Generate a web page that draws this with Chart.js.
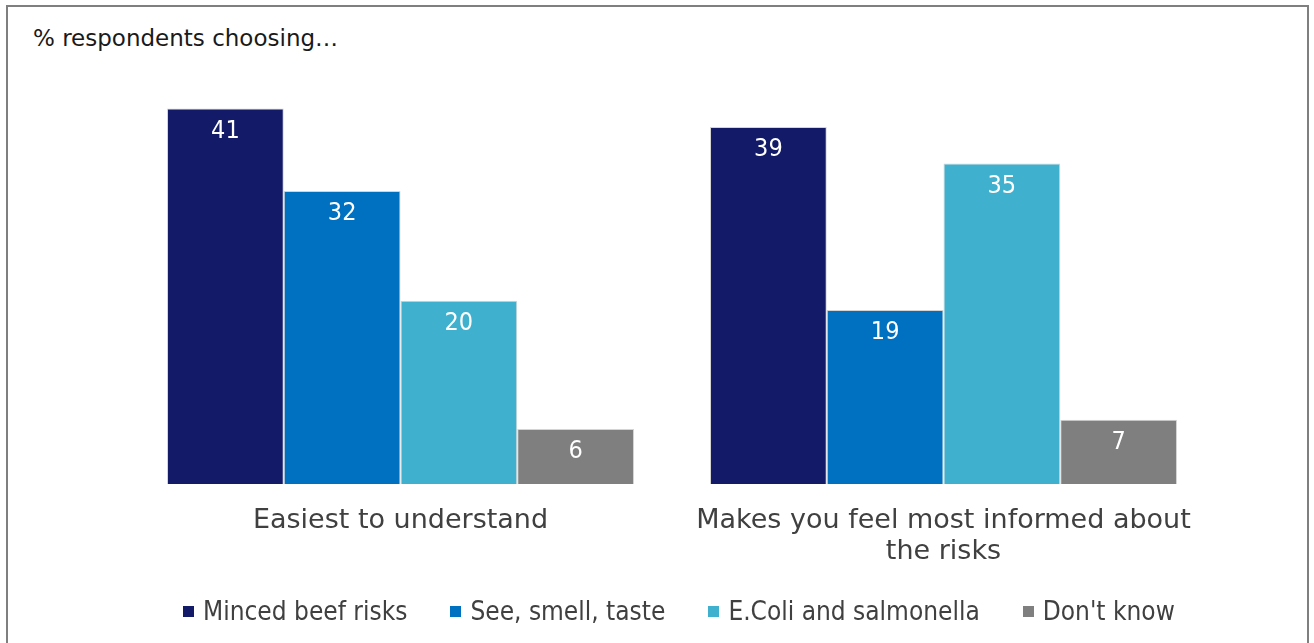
<!DOCTYPE html>
<html>
<head>
<meta charset="utf-8">
<script src="https://cdn.jsdelivr.net/npm/chart.js@4.4.1/dist/chart.umd.min.js"></script>
<style>
  html, body { margin: 0; padding: 0; background: #fff; }
  #wrap { position: relative; width: 1314px; height: 643px; overflow: hidden; }
  #frame {
    position: absolute; left: 6px; top: 5px; width: 1303px; height: 660px;
    border: 2px solid #7f7f7f; box-sizing: border-box;
  }
  #subtitle {
    position: absolute; left: 33px; top: 25px;
    font: 23px "DejaVu Sans", sans-serif; color: #1a1a1a;
  }
  #chart-box { position: absolute; left: 0; top: 0; width: 1314px; height: 643px; }
  #legend {
    position: absolute; left: 183px; top: 594px; height: 34px;
    display: flex; align-items: center;
    font: 26px "DejaVu Sans Condensed", "DejaVu Sans", sans-serif; color: #404040;
  }
  #legend .item { display: flex; align-items: center; margin-right: 43px; white-space: nowrap; }
  #legend .box { width: 11px; height: 11px; margin-right: 9px; }
</style>
</head>
<body>
<div id="wrap">
  <div id="frame"></div>
  <div id="subtitle">% respondents choosing…</div>
  <div id="chart-box"><canvas id="chart"></canvas></div>
  <div id="legend"></div>
</div>
<script>
  // Categories and answer series
  const categories = [
    "Easiest to understand",
    ["Makes you feel most informed about", "the risks"],
  ];
  const seriesNames = [
    "Minced beef risks",
    "See, smell, taste",
    "E.Coli and salmonella",
    "Don't know",
  ];
  const mincedBeef = [41, 39];
  const seeSmellTaste = [32, 19];
  const eColi = [20, 35];
  const dontKnow = [6, 7];
  const seriesColors = ["#131b69", "#0070c0", "#3fb1ce", "#7f7f7f"];

  const seriesValues = [mincedBeef, seeSmellTaste, eColi, dontKnow];

  // Legend row under the axis labels
  const legendEl = document.getElementById("legend");
  seriesNames.forEach((name, i) => {
    const item = document.createElement("div");
    item.className = "item";
    item.innerHTML = `<span class="box" style="background:${seriesColors[i]}"></span>${name}`;
    legendEl.appendChild(item);
  });

  // Writes each value in white near the top of its bar
  const barValues = {
    id: "barValues",
    afterDatasetsDraw(chart) {
      const ctx = chart.ctx;
      ctx.save();
      ctx.font = '25px "DejaVu Sans Condensed", "DejaVu Sans", sans-serif';
      ctx.fillStyle = "#ffffff";
      ctx.textAlign = "center";
      ctx.textBaseline = "middle";
      chart.data.datasets.forEach((ds, i) => {
        chart.getDatasetMeta(i).data.forEach((bar, j) => {
          ctx.fillText(String(ds.data[j]), bar.x, bar.y + 23);
        });
      });
      ctx.restore();
    },
  };

  new Chart(document.getElementById("chart"), {
    type: "bar",
    data: {
      labels: categories,
      datasets: seriesNames.map((name, i) => ({
        label: name,
        data: seriesValues[i],
        backgroundColor: seriesColors[i],
        borderColor: "#d4d4d4",
        borderWidth: 1,
        categoryPercentage: 0.86,
        barPercentage: 1.0,
      })),
    },
    options: {
      responsive: true,
      maintainAspectRatio: false,
      animation: false,
      layout: {
        padding: { left: 129, right: 99, top: 72, bottom: 61 },
      },
      plugins: {
        tooltip: { enabled: false },
        legend: { display: false },
      },
      scales: {
        x: {
          grid: { display: false },
          border: { display: false },
          ticks: {
            color: "#404040",
            padding: 14,
            font: { family: '"DejaVu Sans", sans-serif', size: 27, lineHeight: 1.15 },
          },
        },
        y: {
          display: false,
          min: 0,
          max: 45,
        },
      },
    },
    plugins: [barValues],
  });
</script>
</body>
</html>
